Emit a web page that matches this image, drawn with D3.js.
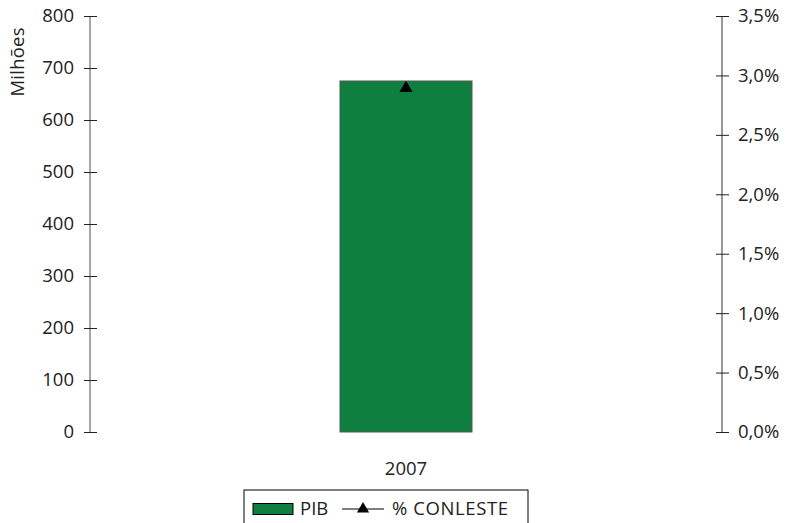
<!DOCTYPE html>
<html><head><meta charset="utf-8">
<script src="https://cdn.jsdelivr.net/npm/d3@7"></script>
<style>
body{margin:0;background:#fff;}
text{font-family:"Open Sans","Noto Sans",sans-serif;fill:#222;}
</style></head>
<body><svg id="c" width="789" height="523"></svg>
<script>
const title = "Composição do PIB na CONLESTE";
const categories = ["2007"];
const pib = [675];
const conleste = [2.9];
const leftTicks = [0,100,200,300,400,500,600,700,800];
const rightTicks = [0,0.5,1.0,1.5,2.0,2.5,3.0,3.5];
const seriesNames = ["PIB","% CONLESTE"];

const svg = d3.select("#c");
const fs = 18.5;
const x = d3.scaleBand().domain(categories).range([90,722]).paddingInner(0).paddingOuter(1.894);
const yL = d3.scaleLinear().domain([0,800]).range([432,16]);
const yR = d3.scaleLinear().domain([0,3.5]).range([432,16]);

svg.append("text").attr("x",45).attr("y",-3).attr("font-weight","bold").attr("font-size",14).text(title);

// bars
svg.selectAll("rect.bar").data(pib).join("rect").attr("class","bar")
  .attr("x",(d,i)=>x(categories[i])).attr("width",x.bandwidth())
  .attr("y",d=>yL(d)).attr("height",d=>yL(0)-yL(d))
  .attr("fill","#0e7f3f").attr("stroke","#555").attr("stroke-width",1);

// left axis
const gL = svg.append("g").attr("transform","translate(90,0)")
  .call(d3.axisLeft(yL).tickValues(leftTicks).tickSize(6).tickPadding(10).tickFormat(d3.format("d")));
gL.select(".domain").attr("stroke","#888").attr("stroke-width",1.5).attr("d","M0,432V16");
gL.selectAll(".tick line").attr("x1",-6).attr("x2",7).attr("stroke","#222");
gL.selectAll("text").attr("font-size",fs).attr("fill","#222");

// right axis
const fmtR = d=>d3.format(".1f")(d).replace(".",",")+"%";
const gR = svg.append("g").attr("transform","translate(722,0)")
  .call(d3.axisRight(yR).tickValues(rightTicks).tickSize(6).tickPadding(10).tickFormat(fmtR));
gR.select(".domain").attr("stroke","#333").attr("d","M0,432V16");
gR.selectAll(".tick line").attr("x1",-6).attr("x2",7).attr("stroke","#222");
gR.selectAll("text").attr("font-size",fs).attr("fill","#222").attr("x",16);

// x labels
svg.selectAll("text.cat").data(categories).join("text").attr("class","cat")
  .attr("x",d=>x(d)+x.bandwidth()/2).attr("y",475).attr("text-anchor","middle")
  .attr("font-size",fs).text(d=>d);

// line series markers
const tri = d3.symbol().type(d3.symbolTriangle).size(75);
svg.selectAll("path.mk").data(conleste).join("path").attr("class","mk")
  .attr("d",tri).attr("fill","#000")
  .attr("transform",(d,i)=>`translate(${x(categories[i])+x.bandwidth()/2},${yR(d)+1})`);
svg.append("path").datum(conleste).attr("fill","none").attr("stroke","#000")
  .attr("d",d3.line().x((d,i)=>x(categories[i])+x.bandwidth()/2).y(d=>yR(d)));

// y label
svg.append("text").attr("transform","translate(24,62) rotate(-90)").attr("text-anchor","middle")
  .attr("font-size",18.5).attr("textLength",69).text("Milhões");

// legend
const lg = svg.append("g");
lg.append("rect").attr("x",244).attr("y",490).attr("width",284).attr("height",40)
  .attr("fill","#fff").attr("stroke","#000").attr("stroke-width",1);
lg.append("rect").attr("x",253).attr("y",503.5).attr("width",40).attr("height",11)
  .attr("fill","#0e7f3f").attr("stroke","#000").attr("stroke-width",1);
lg.append("text").attr("x",300).attr("y",515).attr("font-size",fs).text(seriesNames[0]);
lg.append("line").attr("x1",342).attr("x2",384).attr("y1",509).attr("y2",509).attr("stroke","#000");
lg.append("path").attr("d",d3.symbol().type(d3.symbolTriangle).size(65)).attr("fill","#000")
  .attr("transform","translate(363,509)");
lg.append("text").attr("x",392).attr("y",515).attr("font-size",fs).attr("textLength",116).text(seriesNames[1]);
</script></body></html>
